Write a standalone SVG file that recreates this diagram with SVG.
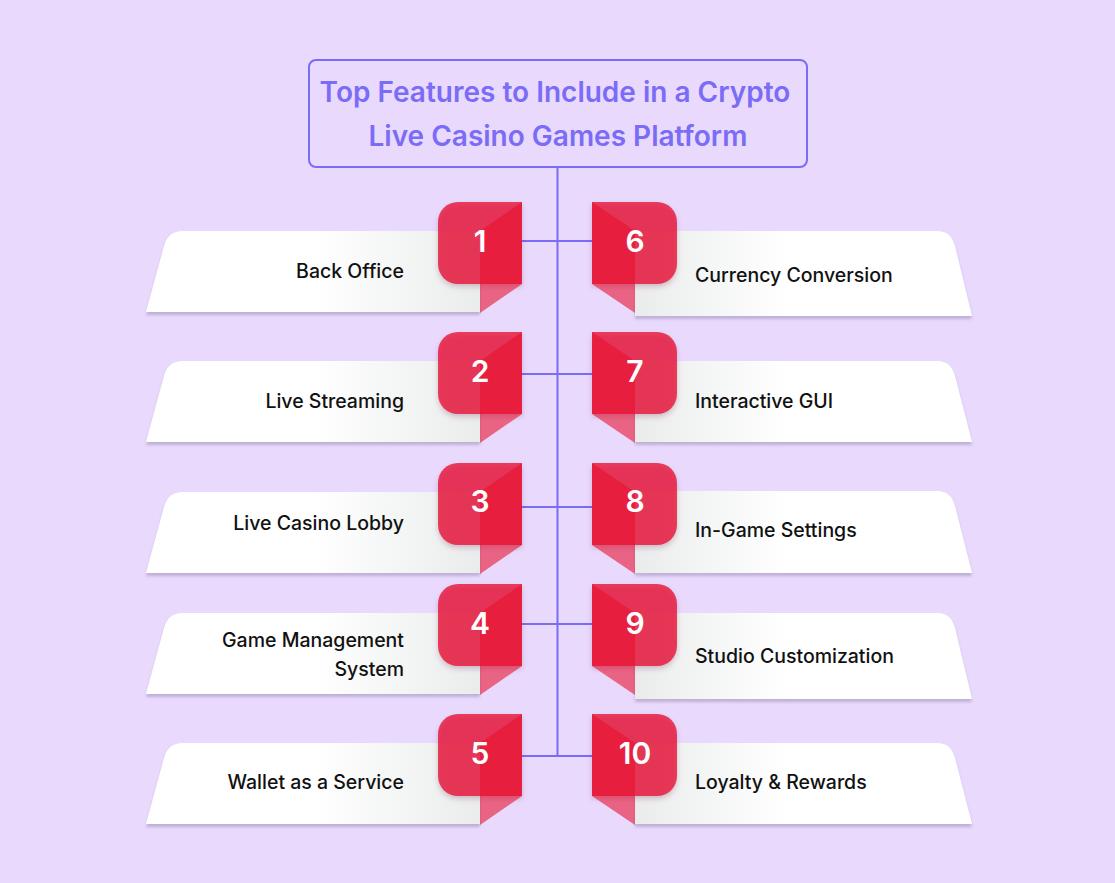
<svg xmlns="http://www.w3.org/2000/svg" width="1115" height="883" viewBox="0 0 1115 883">
<style>
.bg{fill:#e9dafd}
.title{font-family:Inter,"Liberation Sans",sans-serif;font-weight:600;font-size:28px;fill:#7b6cf6;text-anchor:middle}
.lbl{font-family:Inter,"Liberation Sans",sans-serif;font-weight:500;font-size:19.5px;fill:#111111}
.lt{text-anchor:end}
.num{font-family:Inter,"Liberation Sans",sans-serif;font-weight:600;font-size:30px;fill:#ffffff;text-anchor:middle}
.badge{fill:#e8153a;fill-opacity:0.82}
.fold{fill:#e8102c;fill-opacity:0.58}
.conn{stroke:#7b6cf6;stroke-width:2;fill:none}
.lcard{fill:url(#gl)}
.rcard{fill:url(#gr)}
</style>
<defs>
<linearGradient id="gl" x1="0" y1="0" x2="1" y2="0">
<stop offset="0" stop-color="#ffffff"/>
<stop offset="0.5" stop-color="#ffffff"/>
<stop offset="1" stop-color="#eaecec"/>
</linearGradient>
<linearGradient id="gr" x1="0" y1="0" x2="1" y2="0">
<stop offset="0" stop-color="#eaecec"/>
<stop offset="0.45" stop-color="#ffffff"/>
<stop offset="1" stop-color="#ffffff"/>
</linearGradient>
<filter id="sh" x="-10%" y="-20%" width="120%" height="150%">
<feDropShadow dx="0" dy="3" stdDeviation="1.6" flood-color="#6e5f8f" flood-opacity="0.35"/>
</filter>
<filter id="bsh" x="-20%" y="-20%" width="140%" height="150%">
<feDropShadow dx="0" dy="3" stdDeviation="2.5" flood-color="#6e2f4f" flood-opacity="0.3"/>
</filter>
</defs>
<rect class="bg" x="0" y="0" width="1115" height="883"/>

<g id="title">
<rect x="309" y="60" width="498" height="107" rx="7" fill="none" stroke="#7b6cf6" stroke-width="2"/>
<text class="title" x="555" y="102">Top Features to Include in a Crypto</text>
<text class="title" x="558" y="146">Live Casino Games Platform</text>
</g>

<g id="connectors">
<line class="conn" x1="557.5" y1="167" x2="557.5" y2="757"/>
<line class="conn" x1="522" y1="241" x2="592" y2="241"/>
<line class="conn" x1="522" y1="374" x2="592" y2="374"/>
<line class="conn" x1="522" y1="507" x2="592" y2="507"/>
<line class="conn" x1="522" y1="624" x2="592" y2="624"/>
<line class="conn" x1="522" y1="756" x2="592" y2="756"/>
</g>

<!-- Left nodes -->
<g id="f1">
<path class="lcard" filter="url(#sh)" d="M146,312 L164,246 Q168,231 183,231 H480 V312 Z"/>
<text class="lbl lt" x="404" y="278">Back Office</text>
<path class="badge" filter="url(#bsh)" d="M522,202 V284 H458 A20,20 0 0 1 438,264 V222 A20,20 0 0 1 458,202 Z"/>
<path class="fold" d="M480,231 L522,202 V284 L480,313 Z"/>
<text class="num" x="480" y="252">1</text>
</g>
<g id="f2">
<path class="lcard" filter="url(#sh)" d="M146,442 L164,376 Q168,361 183,361 H480 V442 Z"/>
<text class="lbl lt" x="404" y="408">Live Streaming</text>
<path class="badge" filter="url(#bsh)" d="M522,332 V414 H458 A20,20 0 0 1 438,394 V352 A20,20 0 0 1 458,332 Z"/>
<path class="fold" d="M480,361 L522,332 V414 L480,443 Z"/>
<text class="num" x="480" y="382">2</text>
</g>
<g id="f3">
<path class="lcard" filter="url(#sh)" d="M146,573 L164,507 Q168,492 183,492 H480 V573 Z"/>
<text class="lbl lt" x="404" y="530">Live Casino Lobby</text>
<path class="badge" filter="url(#bsh)" d="M522,463 V545 H458 A20,20 0 0 1 438,525 V483 A20,20 0 0 1 458,463 Z"/>
<path class="fold" d="M480,492 L522,463 V545 L480,574 Z"/>
<text class="num" x="480" y="512">3</text>
</g>
<g id="f4">
<path class="lcard" filter="url(#sh)" d="M146,694 L164,628 Q168,613 183,613 H480 V694 Z"/>
<text class="lbl lt" x="404" y="647">Game Management</text>
<text class="lbl lt" x="404" y="676">System</text>
<path class="badge" filter="url(#bsh)" d="M522,584 V666 H458 A20,20 0 0 1 438,646 V604 A20,20 0 0 1 458,584 Z"/>
<path class="fold" d="M480,613 L522,584 V666 L480,695 Z"/>
<text class="num" x="480" y="634">4</text>
</g>
<g id="f5">
<path class="lcard" filter="url(#sh)" d="M146,824 L164,758 Q168,743 183,743 H480 V824 Z"/>
<text class="lbl lt" x="404" y="789">Wallet as a Service</text>
<path class="badge" filter="url(#bsh)" d="M522,714 V796 H458 A20,20 0 0 1 438,776 V734 A20,20 0 0 1 458,714 Z"/>
<path class="fold" d="M480,743 L522,714 V796 L480,825 Z"/>
<text class="num" x="480" y="764">5</text>
</g>

<!-- Right nodes -->
<g id="f6">
<path class="rcard" filter="url(#sh)" d="M635,231 H937 Q951,231 955,246 L972,316 H635 Z"/>
<text class="lbl" x="695" y="282">Currency Conversion</text>
<path class="badge" filter="url(#bsh)" d="M592,202 H657 A20,20 0 0 1 677,222 V264 A20,20 0 0 1 657,284 H592 Z"/>
<path class="fold" d="M592,202 L635,231 V313 L592,284 Z"/>
<text class="num" x="635" y="252">6</text>
</g>
<g id="f7">
<path class="rcard" filter="url(#sh)" d="M635,361 H937 Q951,361 955,376 L972,442 H635 Z"/>
<text class="lbl" x="695" y="408">Interactive GUI</text>
<path class="badge" filter="url(#bsh)" d="M592,332 H657 A20,20 0 0 1 677,352 V394 A20,20 0 0 1 657,414 H592 Z"/>
<path class="fold" d="M592,332 L635,361 V443 L592,414 Z"/>
<text class="num" x="635" y="382">7</text>
</g>
<g id="f8">
<path class="rcard" filter="url(#sh)" d="M635,491 H937 Q951,491 955,506 L972,573 H635 Z"/>
<text class="lbl" x="695" y="537">In-Game Settings</text>
<path class="badge" filter="url(#bsh)" d="M592,463 H657 A20,20 0 0 1 677,483 V525 A20,20 0 0 1 657,545 H592 Z"/>
<path class="fold" d="M592,463 L635,492 V574 L592,545 Z"/>
<text class="num" x="635" y="512">8</text>
</g>
<g id="f9">
<path class="rcard" filter="url(#sh)" d="M635,613 H937 Q951,613 955,628 L972,699 H635 Z"/>
<text class="lbl" x="695" y="663">Studio Customization</text>
<path class="badge" filter="url(#bsh)" d="M592,584 H657 A20,20 0 0 1 677,604 V646 A20,20 0 0 1 657,666 H592 Z"/>
<path class="fold" d="M592,584 L635,613 V695 L592,666 Z"/>
<text class="num" x="635" y="634">9</text>
</g>
<g id="f10">
<path class="rcard" filter="url(#sh)" d="M635,743 H937 Q951,743 955,758 L972,824 H635 Z"/>
<text class="lbl" x="695" y="789">Loyalty &amp; Rewards</text>
<path class="badge" filter="url(#bsh)" d="M592,714 H657 A20,20 0 0 1 677,734 V776 A20,20 0 0 1 657,796 H592 Z"/>
<path class="fold" d="M592,714 L635,743 V825 L592,796 Z"/>
<text class="num" x="635" y="764">10</text>
</g>
</svg>
